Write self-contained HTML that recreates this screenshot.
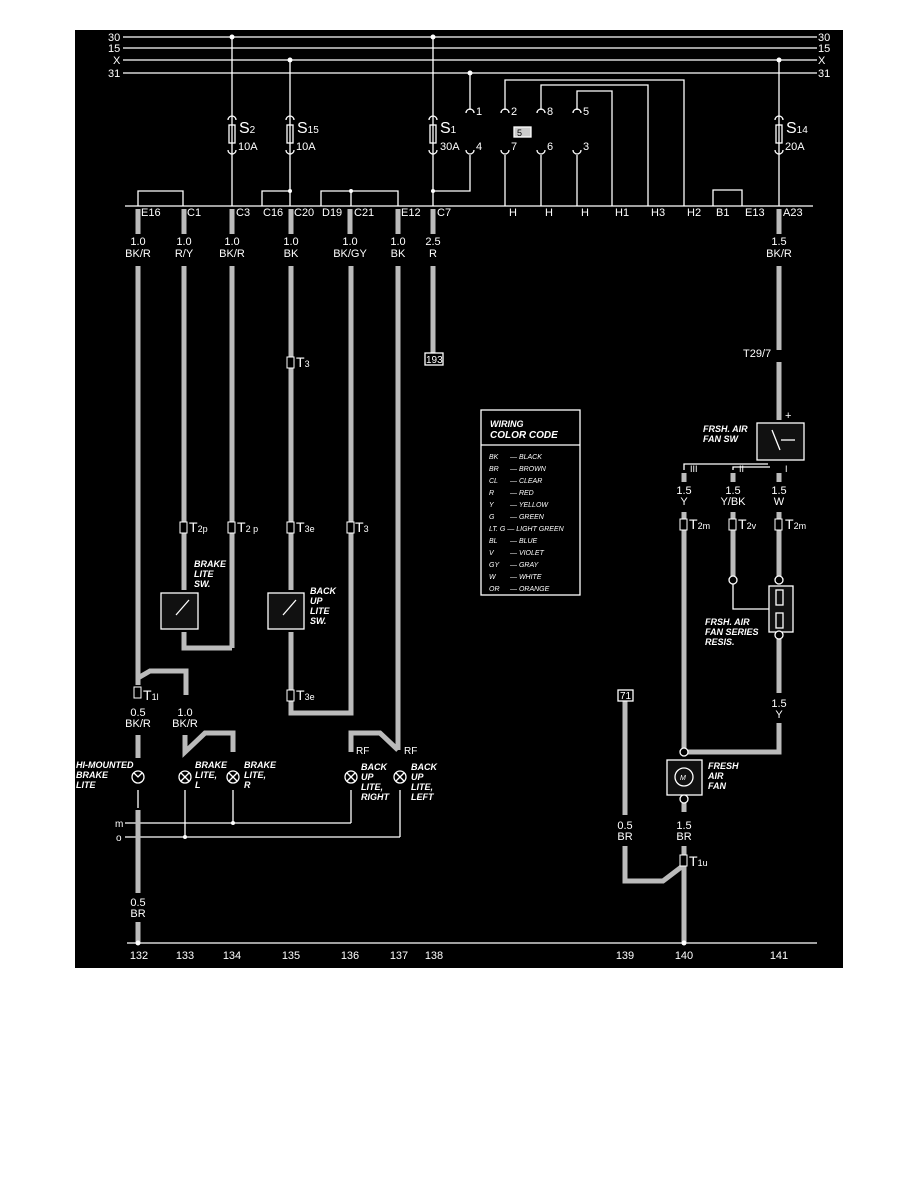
<!DOCTYPE html>
<html><head><meta charset="utf-8"><style>
html,body{margin:0;padding:0;background:#fff;width:918px;height:1188px;overflow:hidden}
svg{display:block}
text{font-family:"Liberation Sans",sans-serif;fill:#fff}
.t{font-size:11px}
.i{font-size:9px;font-style:italic;font-weight:bold}
.s{font-size:7px;font-style:italic}
</style></head><body>
<svg width="918" height="1188" viewBox="0 0 918 1188">
<rect x="75" y="30" width="768" height="938" fill="#000"/>
<g stroke="#fff" stroke-width="1.3" fill="none">
<line x1="123" y1="37" x2="817" y2="37"/><line x1="123" y1="48" x2="817" y2="48"/>
<line x1="123" y1="60" x2="817" y2="60"/><line x1="123" y1="73" x2="817" y2="73"/>
<line x1="232" y1="37" x2="232" y2="206"/><line x1="290" y1="60" x2="290" y2="206"/>
<line x1="433" y1="37" x2="433" y2="206"/><line x1="779" y1="60" x2="779" y2="206"/>
<line x1="470" y1="73" x2="470" y2="110"/>
<line x1="125" y1="206" x2="813" y2="206"/>
<polyline points="138,206 138,191 183,191 183,206"/>
<polyline points="262,206 262,191 290,191"/>
<polyline points="321,206 321,191 398,191 398,206"/>
<line x1="351" y1="191" x2="351" y2="206"/>
<polyline points="433,191 470,191 470,155"/>
<polyline points="713,206 713,190 742,190 742,206"/>
<polyline points="505,110 505,80 684,80 684,206"/>
<polyline points="541,110 541,85 648,85 648,206"/>
<polyline points="577,110 577,91 612,91 612,206"/>
<line x1="505" y1="155" x2="505" y2="206"/><line x1="541" y1="155" x2="541" y2="206"/><line x1="577" y1="155" x2="577" y2="206"/>
<path d="M466,113 a4,4 0 0 1 8,0 M501,113 a4,4 0 0 1 8,0 M537,113 a4,4 0 0 1 8,0 M573,113 a4,4 0 0 1 8,0"/>
<path d="M466,150 a4,4 0 0 0 8,0 M501,150 a4,4 0 0 0 8,0 M537,150 a4,4 0 0 0 8,0 M573,150 a4,4 0 0 0 8,0"/>
<g>
<path d="M228,120 a4,4 0 0 1 8,0 M228,150 a4,4 0 0 0 8,0"/><rect x="229" y="125" width="6" height="18"/>
<path d="M286,120 a4,4 0 0 1 8,0 M286,150 a4,4 0 0 0 8,0"/><rect x="287" y="125" width="6" height="18"/>
<path d="M429,120 a4,4 0 0 1 8,0 M429,150 a4,4 0 0 0 8,0"/><rect x="430" y="125" width="6" height="18"/>
<path d="M775,120 a4,4 0 0 1 8,0 M775,150 a4,4 0 0 0 8,0"/><rect x="776" y="125" width="6" height="18"/>
</g>
<line x1="125" y1="823" x2="351" y2="823"/><line x1="351" y1="790" x2="351" y2="823"/>
<line x1="125" y1="837" x2="400" y2="837"/><line x1="400" y1="790" x2="400" y2="837"/>
<line x1="185" y1="790" x2="185" y2="837"/><line x1="233" y1="790" x2="233" y2="823"/>
<line x1="138" y1="790" x2="138" y2="808"/>
<line x1="127" y1="943" x2="817" y2="943"/>
<polyline points="684,470 684,464 768,464"/><polyline points="733,470 733,467 770,467"/>
<polyline points="733,580 733,609 779,609"/>
</g>
<g stroke="#bbb" stroke-width="5" fill="none">
<!-- connector pins -->
<path d="M138,209V234M184,209V234M232,209V234M291,209V234M350,209V234M398,209V234M433,209V234M779,209V234"/>
<line x1="138" y1="266" x2="138" y2="685"/>
<line x1="184" y1="266" x2="184" y2="590"/>
<line x1="232" y1="266" x2="232" y2="648"/>
<polyline points="184,632 184,648 232,648"/>
<line x1="291" y1="266" x2="291" y2="590"/>
<line x1="291" y1="632" x2="291" y2="690"/>
<polyline points="291,700 291,713 351,713 351,266"/>
<line x1="398" y1="266" x2="398" y2="750"/>
<line x1="433" y1="266" x2="433" y2="353"/>
<polyline points="138,678 150,671 186,671 186,695"/>
<line x1="138" y1="735" x2="138" y2="758"/>
<polyline points="185,735 185,752 205,733 233,733 233,752"/>
<polyline points="351,752 351,733 380,733 398,750"/>
<line x1="138" y1="810" x2="138" y2="893"/>
<line x1="138" y1="922" x2="138" y2="943"/>
<line x1="779" y1="266" x2="779" y2="350"/>
<line x1="779" y1="362" x2="779" y2="420"/>
<line x1="684" y1="473" x2="684" y2="482"/><line x1="733" y1="473" x2="733" y2="482"/><line x1="779" y1="473" x2="779" y2="482"/>
<line x1="684" y1="512" x2="684" y2="752"/>
<line x1="733" y1="512" x2="733" y2="577"/>
<line x1="779" y1="512" x2="779" y2="577"/>
<line x1="779" y1="638" x2="779" y2="693"/>
<polyline points="779,723 779,752 684,752"/>
<line x1="684" y1="802" x2="684" y2="812"/>
<line x1="625" y1="700" x2="625" y2="815"/>
<polyline points="625,846 625,881 663,881 684,865"/>
<line x1="684" y1="846" x2="684" y2="943"/>
</g>
<!-- terminal blocks -->
<g stroke="#fff" stroke-width="1" fill="#000">
<rect x="287" y="357" width="7" height="11"/>
<rect x="180" y="522" width="7" height="11"/><rect x="228" y="522" width="7" height="11"/><rect x="287" y="522" width="7" height="11"/><rect x="347" y="522" width="7" height="11"/>
<rect x="287" y="690" width="7" height="11"/><rect x="134" y="687" width="7" height="11"/>
<rect x="680" y="519" width="7" height="11"/><rect x="729" y="519" width="7" height="11"/><rect x="775" y="519" width="7" height="11"/>
<rect x="680" y="855" width="7" height="11"/>
</g>
<g fill="#fff">
<circle cx="232" cy="37" r="2.5"/><circle cx="433" cy="37" r="2.5"/><circle cx="290" cy="60" r="2.5"/><circle cx="779" cy="60" r="2.5"/><circle cx="470" cy="73" r="2.5"/>
<circle cx="290" cy="191" r="2"/><circle cx="351" cy="191" r="2"/><circle cx="433" cy="191" r="2"/>
<circle cx="233" cy="823" r="2"/><circle cx="185" cy="837" r="2"/><circle cx="138" cy="943" r="2.5"/><circle cx="684" cy="943" r="2.5"/>
</g>
<g stroke="#fff" stroke-width="1.3" fill="#111">
<rect x="161" y="593" width="37" height="36"/><rect x="268" y="593" width="36" height="36"/>
<rect x="757" y="423" width="47" height="37"/><rect x="769" y="586" width="24" height="46"/>
<rect x="667" y="760" width="35" height="35"/>
<circle cx="684" cy="777" r="9"/>
<rect x="425" y="353" width="18" height="12" fill="#000"/><rect x="618" y="690" width="15" height="11" fill="#000"/>
<rect x="514" y="127" width="17" height="10" fill="#ccc"/>
<circle cx="733" cy="580" r="4" fill="#000"/><circle cx="779" cy="580" r="4" fill="#000"/><circle cx="779" cy="635" r="4" fill="#000"/>
<circle cx="684" cy="752" r="4" fill="#000"/><circle cx="684" cy="799" r="4" fill="#000"/>
<rect x="776" y="590" width="7" height="15" fill="none"/><rect x="776" y="613" width="7" height="15" fill="none"/>
</g>
<g stroke="#fff" stroke-width="1.3" fill="none">
<line x1="772" y1="430" x2="780" y2="450"/><line x1="781" y1="440" x2="795" y2="440"/>
<line x1="283" y1="615" x2="296" y2="600"/><line x1="176" y1="615" x2="189" y2="600"/>
<g><circle cx="138" cy="777" r="6"/><circle cx="185" cy="777" r="6"/><path d="M181,773l8,8M189,773l-8,8"/>
<circle cx="233" cy="777" r="6"/><path d="M229,773l8,8M237,773l-8,8"/>
<circle cx="351" cy="777" r="6"/><path d="M347,773l8,8M355,773l-8,8"/>
<circle cx="400" cy="777" r="6"/><path d="M396,773l8,8M404,773l-8,8"/>
<path d="M134,773l4,4l4,-4"/></g>
<rect x="481" y="410" width="99" height="185"/><line x1="481" y1="445" x2="580" y2="445"/>
</g>
<g class="t">
<text x="108" y="41">30</text><text x="108" y="52">15</text><text x="113" y="64">X</text><text x="108" y="77">31</text>
<text x="818" y="41">30</text><text x="818" y="52">15</text><text x="818" y="64">X</text><text x="818" y="77">31</text>
<text x="239" y="133" font-size="16">S<tspan font-size="10">2</tspan></text><text x="238" y="150">10A</text>
<text x="297" y="133" font-size="16">S<tspan font-size="10">15</tspan></text><text x="296" y="150">10A</text>
<text x="440" y="133" font-size="16">S<tspan font-size="10">1</tspan></text><text x="440" y="150">30A</text>
<text x="786" y="133" font-size="16">S<tspan font-size="10">14</tspan></text><text x="785" y="150">20A</text>
<text x="476" y="115">1</text><text x="511" y="115">2</text><text x="547" y="115">8</text><text x="583" y="115">5</text>
<text x="476" y="150">4</text><text x="511" y="150">7</text><text x="547" y="150">6</text><text x="583" y="150">3</text>
<text x="517" y="136" font-size="9" style="fill:#000">5</text>
<text x="141" y="216">E16</text><text x="187" y="216">C1</text><text x="236" y="216">C3</text><text x="263" y="216">C16</text><text x="294" y="216">C20</text><text x="322" y="216">D19</text><text x="354" y="216">C21</text><text x="401" y="216">E12</text><text x="437" y="216">C7</text>
<text x="509" y="216">H</text><text x="545" y="216">H</text><text x="581" y="216">H</text><text x="615" y="216">H1</text><text x="651" y="216">H3</text><text x="687" y="216">H2</text><text x="716" y="216">B1</text><text x="745" y="216">E13</text><text x="783" y="216">A23</text>
<g text-anchor="middle">
<text x="138" y="245">1.0</text><text x="138" y="257">BK/R</text>
<text x="184" y="245">1.0</text><text x="184" y="257">R/Y</text>
<text x="232" y="245">1.0</text><text x="232" y="257">BK/R</text>
<text x="291" y="245">1.0</text><text x="291" y="257">BK</text>
<text x="350" y="245">1.0</text><text x="350" y="257">BK/GY</text>
<text x="398" y="245">1.0</text><text x="398" y="257">BK</text>
<text x="433" y="245">2.5</text><text x="433" y="257">R</text>
<text x="779" y="245">1.5</text><text x="779" y="257">BK/R</text>
<text x="684" y="494">1.5</text><text x="684" y="505">Y</text>
<text x="733" y="494">1.5</text><text x="733" y="505">Y/BK</text>
<text x="779" y="494">1.5</text><text x="779" y="505">W</text>
<text x="779" y="707">1.5</text><text x="779" y="718">Y</text>
<text x="138" y="716">0.5</text><text x="138" y="727">BK/R</text>
<text x="185" y="716">1.0</text><text x="185" y="727">BK/R</text>
<text x="138" y="906">0.5</text><text x="138" y="917">BR</text>
<text x="625" y="829">0.5</text><text x="625" y="840">BR</text>
<text x="684" y="829">1.5</text><text x="684" y="840">BR</text>
<text x="139" y="959">132</text><text x="185" y="959">133</text><text x="232" y="959">134</text><text x="291" y="959">135</text><text x="350" y="959">136</text><text x="399" y="959">137</text><text x="434" y="959">138</text><text x="625" y="959">139</text><text x="684" y="959">140</text><text x="779" y="959">141</text>
</g>
<text x="426" y="363" font-size="10">193</text><text x="620" y="699" font-size="10">71</text>
<text x="296" y="367" font-size="14">T<tspan font-size="9">3</tspan></text>
<text x="189" y="532" font-size="14">T<tspan font-size="9">2p</tspan></text><text x="237" y="532" font-size="14">T<tspan font-size="9">2 p</tspan></text>
<text x="296" y="532" font-size="14">T<tspan font-size="9">3e</tspan></text><text x="355" y="532" font-size="14">T<tspan font-size="9">3</tspan></text>
<text x="296" y="700" font-size="14">T<tspan font-size="9">3e</tspan></text><text x="143" y="700" font-size="14">T<tspan font-size="9">1l</tspan></text>
<text x="689" y="529" font-size="14">T<tspan font-size="9">2m</tspan></text><text x="738" y="529" font-size="14">T<tspan font-size="9">2v</tspan></text><text x="785" y="529" font-size="14">T<tspan font-size="9">2m</tspan></text>
<text x="689" y="866" font-size="14">T<tspan font-size="9">1u</tspan></text>
<text x="743" y="357">T29/7</text><text x="785" y="419">+</text>
<text x="690" y="472" font-size="9">III</text><text x="739" y="472" font-size="9">II</text><text x="785" y="472" font-size="9">I</text>
<text x="404" y="754" font-size="10">RF</text><text x="356" y="754" font-size="10">RF</text>
<text x="115" y="827" font-size="10">m</text><text x="116" y="841" font-size="10">o</text>
</g>
<g class="i">
<text x="194" y="567">BRAKE</text><text x="194" y="577">LITE</text><text x="194" y="587">SW.</text>
<text x="310" y="594">BACK</text><text x="310" y="604">UP</text><text x="310" y="614">LITE</text><text x="310" y="624">SW.</text>
<text x="76" y="768">HI-MOUNTED</text><text x="76" y="778">BRAKE</text><text x="76" y="788">LITE</text>
<text x="195" y="768">BRAKE</text><text x="195" y="778">LITE,</text><text x="195" y="788">L</text>
<text x="244" y="768">BRAKE</text><text x="244" y="778">LITE,</text><text x="244" y="788">R</text>
<text x="361" y="770">BACK</text><text x="361" y="780">UP</text><text x="361" y="790">LITE,</text><text x="361" y="800">RIGHT</text>
<text x="411" y="770">BACK</text><text x="411" y="780">UP</text><text x="411" y="790">LITE,</text><text x="411" y="800">LEFT</text>
<text x="703" y="432">FRSH. AIR</text><text x="703" y="442">FAN SW</text>
<text x="705" y="625">FRSH. AIR</text><text x="705" y="635">FAN SERIES</text><text x="705" y="645">RESIS.</text>
<text x="708" y="769">FRESH</text><text x="708" y="779">AIR</text><text x="708" y="789">FAN</text>
<text x="490" y="427" font-size="9">WIRING</text><text x="490" y="438" font-size="10">COLOR CODE</text>
</g>
<text x="680" y="780" font-size="7" style="font-style:italic">M</text>
<g class="s">
<text x="489" y="459">BK</text><text x="510" y="459">— BLACK</text>
<text x="489" y="471">BR</text><text x="510" y="471">— BROWN</text>
<text x="489" y="483">CL</text><text x="510" y="483">— CLEAR</text>
<text x="489" y="495">R</text><text x="510" y="495">— RED</text>
<text x="489" y="507">Y</text><text x="510" y="507">— YELLOW</text>
<text x="489" y="519">G</text><text x="510" y="519">— GREEN</text>
<text x="489" y="531">LT. G — LIGHT GREEN</text>
<text x="489" y="543">BL</text><text x="510" y="543">— BLUE</text>
<text x="489" y="555">V</text><text x="510" y="555">— VIOLET</text>
<text x="489" y="567">GY</text><text x="510" y="567">— GRAY</text>
<text x="489" y="579">W</text><text x="510" y="579">— WHITE</text>
<text x="489" y="591">OR</text><text x="510" y="591">— ORANGE</text>
</g>
</svg>
</body></html>
